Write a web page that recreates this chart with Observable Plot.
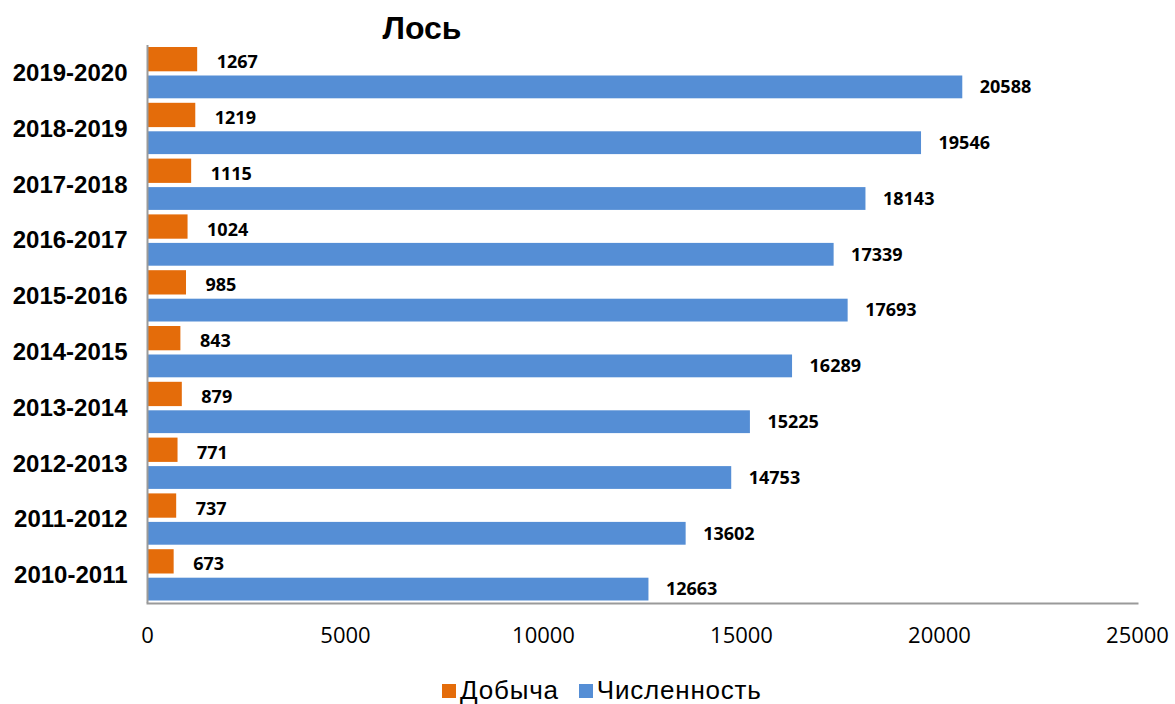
<!DOCTYPE html>
<html>
<head>
<meta charset="utf-8">
<script src="https://cdn.jsdelivr.net/npm/d3@7"></script>
<script src="https://cdn.jsdelivr.net/npm/@observablehq/plot@0.6"></script>
<style>
  html, body { margin: 0; padding: 0; background: #fff; }
  #wrap { position: relative; width: 1175px; height: 704px; }
  #title { position: absolute; left: 0; top: 10px; width: 844px; text-align: center;
    font: bold 32px "Liberation Sans", Arial, sans-serif; color: #000; }
  #chart { position: absolute; left: 0; top: 0; }
  #legend { position: absolute; left: 442px; top: 675px; display: flex;
    gap: 20px; font: 26px "Liberation Sans", Arial, sans-serif; letter-spacing: 0.8px; color: #000; }
  #legend .item { display: flex; align-items: center; gap: 4px; }
  #legend .sw { width: 14px; height: 14px; display: inline-block; }
</style>
</head>
<body>
<div id="wrap">
  <div id="chart"></div>
  <div id="title">Лось</div>
  <div id="legend"></div>
</div>
<script>
const periods = ["2019-2020","2018-2019","2017-2018","2016-2017","2015-2016","2014-2015","2013-2014","2012-2013","2011-2012","2010-2011"];
const harvest = [1267,1219,1115,1024,985,843,879,771,737,673];
const population = [20588,19546,18143,17339,17693,16289,15225,14753,13602,12663];
const seriesNames = ["Добыча","Численность"];
const colors = ["#E46C0A","#558ED5"];
const xTicks = [0,5000,10000,15000,20000,25000];

const harvestRows = periods.map((p,i)=>({period:p, series:seriesNames[0], value:harvest[i]}));
const popRows = periods.map((p,i)=>({period:p, series:seriesNames[1], value:population[i]}));

const labelFont = {fontFamily:"'Open Sans', sans-serif", fontWeight:"bold", fontSize:18, fill:"#000", textAnchor:"start"};

const chart = Plot.plot({
  width: 1175, height: 660,
  marginTop: 45, marginBottom: 57, marginLeft: 147, marginRight: 38,
  style: {background:"transparent", overflow:"visible"},
  x: {domain:[0,25000], axis:null},
  y: {domain: periods, padding: 0, round: false, axis:null},
  color: {domain: seriesNames, range: colors},
  marks: [
    Plot.barX(harvestRows, {x:"value", y:"period", fill:"series", insetTop:2, insetBottom:29.5}),
    Plot.barX(popRows, {x:"value", y:"period", fill:"series", insetTop:30.5, insetBottom:2.5}),
    Plot.text(harvestRows, {x:"value", y:"period", text:d=>String(d.value), dx:19, dy:-11, ...labelFont}),
    Plot.text(popRows, {x:"value", y:"period", text:d=>String(d.value), dx:17, dy:14, ...labelFont}),
    Plot.ruleX([0], {stroke:"#9a9a9a", strokeWidth:2}),
    Plot.frame({anchor:"bottom", stroke:"#9a9a9a", strokeWidth:2}),
    Plot.axisX({ticks:xTicks, tickSize:0, tickPadding:24, tickFormat:d3.format("d"), label:null,
      fontFamily:"'Open Sans', sans-serif", fontSize:22, fill:"#000"}),
    Plot.axisY({tickSize:0, tickPadding:20, label:null,
      fontFamily:"'Liberation Sans', Arial, sans-serif", fontWeight:"bold", fontSize:24, fill:"#000"})
  ]
});
document.getElementById("chart").appendChild(chart);

const legend = document.getElementById("legend");
seriesNames.forEach((s,i)=>{
  const item = document.createElement("div");
  item.className = "item";
  const sw = document.createElement("span");
  sw.className = "sw"; sw.style.background = colors[i];
  const t = document.createElement("span");
  t.textContent = s;
  item.appendChild(sw); item.appendChild(t);
  legend.appendChild(item);
});
</script>
</body>
</html>
